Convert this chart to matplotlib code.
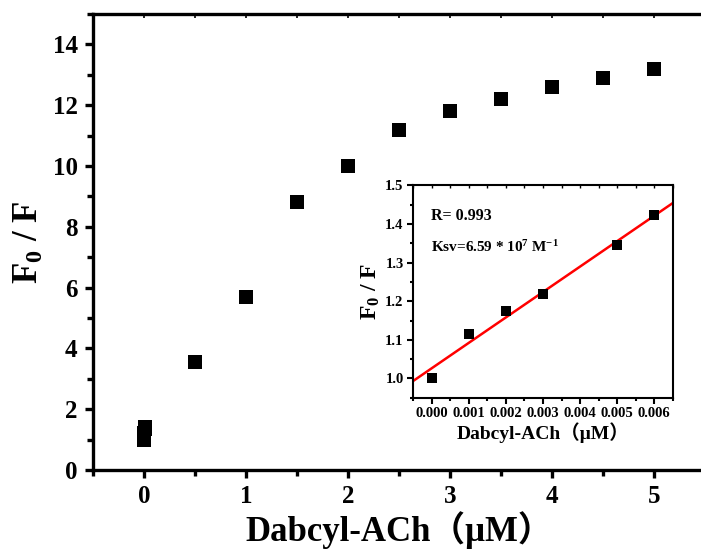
import numpy as np
import matplotlib
matplotlib.use("Agg")
import matplotlib.pyplot as plt
from matplotlib.ticker import MultipleLocator, FormatStrFormatter

# Stern-Volmer quenching data
conc_high = [0.5, 1.0, 1.5, 2.0, 2.5, 3.0, 3.5, 4.0, 4.5, 5.0]
ratio_high = [3.54, 5.70, 8.81, 10.01, 11.18, 11.82, 12.19, 12.59, 12.89, 13.18]

conc_low = [0.000, 0.001, 0.002, 0.003, 0.005, 0.006]
ratio_low = [1.000, 1.115, 1.176, 1.219, 1.345, 1.423]

r_value = "0.993"
ksv_label = "6.59"

plt.rcParams['font.family'] = ['Liberation Serif', 'Noto Sans CJK SC']
plt.rcParams['font.weight'] = 'bold'
plt.rcParams['mathtext.fontset'] = 'custom'
plt.rcParams['mathtext.rm'] = 'Liberation Serif:bold'
plt.rcParams['mathtext.bf'] = 'Liberation Serif:bold'
plt.rcParams['mathtext.it'] = 'Liberation Serif:bold'

xlabel = "Dabcyl-ACh\uff08\u03bcM\uff09"
ylabel = r"$\mathbf{F_0}$ / F"

fig = plt.figure(figsize=(7.01, 5.52), dpi=100)

# main plot (right spine runs just past the figure edge)
ax = fig.add_axes([0.1327, 0.1486, 0.873, 0.826])
ax.plot(conc_low + conc_high, ratio_low + ratio_high, 's', color='black',
        markersize=9.5, markeredgewidth=0, clip_on=False)
ax.set_xlim(-0.5, 5.5)
ax.set_ylim(0, 15)
ax.xaxis.set_major_locator(MultipleLocator(1))
ax.xaxis.set_minor_locator(MultipleLocator(0.5))
ax.yaxis.set_major_locator(MultipleLocator(2))
ax.yaxis.set_minor_locator(MultipleLocator(1))
for s in ax.spines.values():
    s.set_linewidth(2.4)
ax.tick_params(which='major', direction='out', length=6, width=2.4,
               labelsize=18, pad=5)
ax.tick_params(which='minor', direction='out', length=4, width=2.4)
for lab in ax.get_xticklabels() + ax.get_yticklabels():
    lab.set_fontweight('bold')
ax.set_xlabel(xlabel, fontsize=25, fontweight='bold', labelpad=2)
ax.set_ylabel(ylabel, fontsize=25, fontweight='bold', labelpad=5)

# small inward ticks along the top edge
top = ax.secondary_xaxis('top')
top.xaxis.set_major_locator(MultipleLocator(0.5))
top.spines['top'].set_visible(False)
top.tick_params(direction='in', length=3, width=1.2, labeltop=False)

# inset: low-concentration linear region with fit
ins = fig.add_axes([0.5896, 0.2795, 0.370, 0.3845])
slope, intercept = np.polyfit(conc_low, ratio_low, 1)
xlim_in = (-0.0005, 0.0065)
xfit = np.array(xlim_in)
ins.plot(xfit, slope * xfit + intercept, color='#ff0000', linewidth=1.8)
ins.plot(conc_low, ratio_low, 's', color='black', markersize=7,
         markeredgewidth=0)
ins.set_xlim(*xlim_in)
ins.set_ylim(0.95, 1.5)
ins.xaxis.set_major_locator(MultipleLocator(0.001))
ins.xaxis.set_minor_locator(MultipleLocator(0.0005))
ins.yaxis.set_major_locator(MultipleLocator(0.1))
ins.yaxis.set_minor_locator(MultipleLocator(0.05))
ins.xaxis.set_major_formatter(FormatStrFormatter('%.3f'))
ins.yaxis.set_major_formatter(FormatStrFormatter('%.1f'))
for s in ins.spines.values():
    s.set_linewidth(1.5)
ins.tick_params(which='major', direction='out', length=4, width=1.5,
                labelsize=10.5, pad=3)
ins.tick_params(which='minor', direction='out', length=2.5, width=1.5)

itop = ins.secondary_xaxis('top')
itop.xaxis.set_major_locator(MultipleLocator(0.0005))
itop.spines['top'].set_visible(False)
itop.tick_params(direction='in', length=2.5, width=1.0, labeltop=False)

for lab in ins.get_xticklabels() + ins.get_yticklabels():
    lab.set_fontweight('bold')
ins.set_xlabel(xlabel, fontsize=14, fontweight='bold', labelpad=1)
ins.set_ylabel(ylabel, fontsize=17, fontweight='bold', labelpad=2)
ins.text(0.068, 0.854, "R= " + r_value, transform=ins.transAxes,
         fontsize=11.5, fontweight='bold', va='center')
ins.text(0.068, 0.712, r"Ksv=" + ksv_label + r" * 10$^{\mathbf{7}}$ M$^{\mathbf{-1}}$",
         transform=ins.transAxes, fontsize=11, fontweight='bold', va='center')

fig.savefig("out.png", dpi=100)
